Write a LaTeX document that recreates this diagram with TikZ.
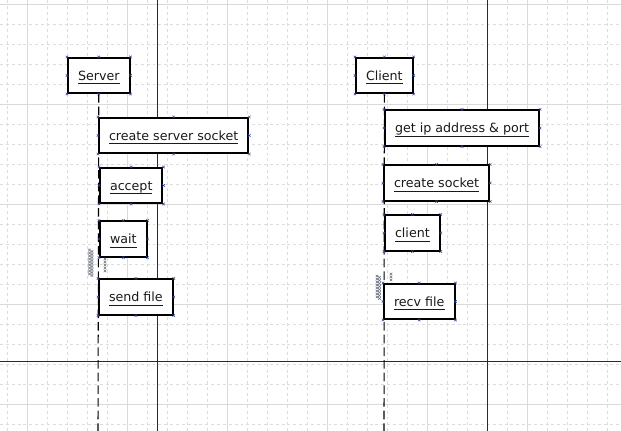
\documentclass[tikz,border=0pt]{standalone}
\usepackage{fontspec}
\setmainfont{DejaVu Sans}
\usetikzlibrary{positioning}
\definecolor{pageline}{HTML}{1C2A5A}
\definecolor{gridmajor}{HTML}{DADADA}
\definecolor{gridminor}{HTML}{DCDCDC}
\definecolor{cpblue}{HTML}{34448A}
\definecolor{inkx}{HTML}{1A1A1A}
\newcommand\ulabel[1]{\setbox0\hbox{#1}\rlap{\smash{\color{inkx}\rule[-3pt]{\wd0}{0.7pt}}}\box0}
\newcommand\conpts[1]{\foreach \a in {north west,north,north east,east,south east,south,south west,west}
  {\draw[cp,shift={(#1.\a)}] (-1.3,-1.3)--(1.3,1.3) (-1.3,1.3)--(1.3,-1.3);}}
\tikzset{
  obj/.style={draw=black,line width=1.5pt,fill=white,text=inkx,font=\fontsize{9.5}{11}\selectfont,
    minimum height=26.3pt,inner xsep=7.5pt,inner ysep=0pt,text height=7.2pt,text depth=0pt,anchor=west},
  lifeline/.style={black,line width=0.8pt,dash pattern=on 6.5pt off 3pt},
  cp/.style={cpblue,line width=0.35pt},
  zz/.style={gray!80!cpblue,line width=0.3pt},
  minorgrid/.style={gridminor,line width=0.5pt,dash pattern=on 2.2pt off 2.2pt},
  majorgrid/.style={gridmajor,line width=0.6pt},
  page/.style={pageline,line width=0.8pt}
}

\begin{document}
\begin{tikzpicture}[x=0.75pt,y=-0.75pt]
\useasboundingbox (0,0) rectangle (621,431);
\fill[white] (0,0) rectangle (621,431);
% grid
\foreach \gx in {7.5,27.5,...,627.5} \draw[minorgrid] (\gx,0) -- (\gx,431);
\foreach \gy in {4,24,...,424} \draw[minorgrid] (0,\gy) -- (621,\gy);
\foreach \gx in {27.5,127.5,...,527.5} \draw[majorgrid] (\gx,0) -- (\gx,431);
\foreach \gy in {4,104,...,404} \draw[majorgrid] (0,\gy) -- (621,\gy);
% page borders
\draw[page] (157.5,0) -- (157.5,431) (487.5,0) -- (487.5,431) (0,361.5) -- (621,361.5);
% objects
\node[obj] (server) at (67,75.5) {\ulabel{Server}};
\node[obj] (client) at (355,75.5) {\ulabel{Client}};
\coordinate (srvend) at (98,431);
\coordinate (cliend) at (384,431);
\draw[lifeline] (server.south) -- (srvend);
\draw[lifeline] (client.south) -- (cliend);
% server side
\node[obj] (mksrvsock) at (98,135.5) {\ulabel{create server socket}};
\node[obj] (accept) at (99,185.5) {\ulabel{accept}};
\node[obj] (wait) at (99,239) {\ulabel{wait}};
\node[obj] (sendfile) at (98,297) {\ulabel{send file}};
% client side
\node[obj] (getaddr) at (384,128) {\ulabel{get ip address \& port}};
\node[obj] (mksock) at (383,183) {\ulabel{create socket}};
\node[obj] (clibox) at (384,233) {\ulabel{client}};
\node[obj] (recvfile) at (383,301.5) {\ulabel{recv file}};
% connection points
\foreach \n in {server,client,mksrvsock,accept,wait,sendfile,getaddr,mksock,clibox,recvfile} {\conpts{\n}}
\foreach \y in {250,253,...,274} {
  \draw[zz,shift={(89.5,\y)}] (-1.3,-1.3)--(1.3,1.3) (-1.3,1.3)--(1.3,-1.3);
  \draw[zz,shift={(92,\y+1.5)}] (-1.3,-1.3)--(1.3,1.3) (-1.3,1.3)--(1.3,-1.3);
}
\foreach \y in {259,262,...,271} \draw[zz,shift={(105,\y)}] (-1.3,-1.3)--(1.3,1.3) (-1.3,1.3)--(1.3,-1.3);
\foreach \y in {276,279,...,298} {
  \draw[zz,shift={(377,\y)}] (-1.3,-1.3)--(1.3,1.3) (-1.3,1.3)--(1.3,-1.3);
  \draw[zz,shift={(379.5,\y+1.5)}] (-1.3,-1.3)--(1.3,1.3) (-1.3,1.3)--(1.3,-1.3);
}
\foreach \y in {274,277,280} \draw[zz,shift={(391,\y)}] (-1.3,-1.3)--(1.3,1.3) (-1.3,1.3)--(1.3,-1.3);
\end{tikzpicture}
\end{document}
